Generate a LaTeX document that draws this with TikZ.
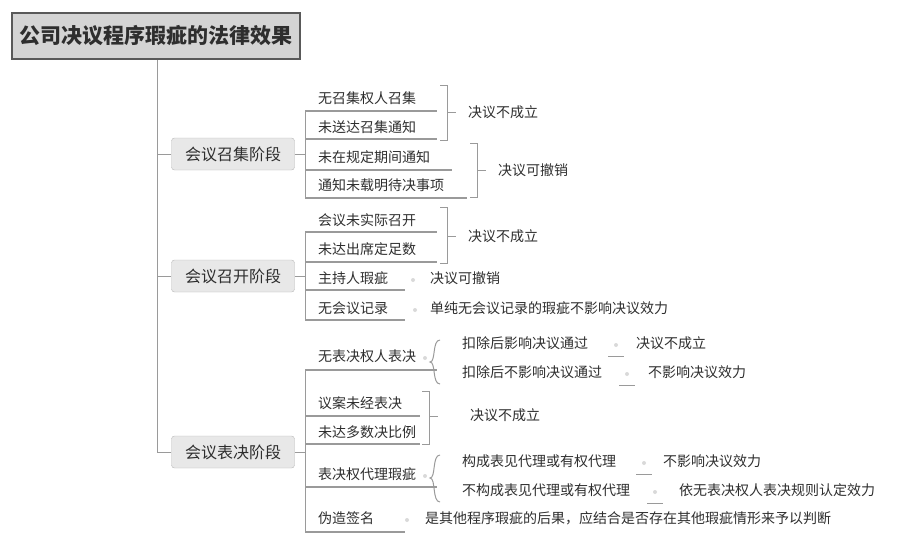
\documentclass[tikz,border=0pt]{standalone}
\usepackage{fontspec}
\setmainfont{Noto Sans CJK SC}
\usetikzlibrary{decorations.pathreplacing}
\definecolor{tx}{HTML}{2E2E2E}
\definecolor{ln}{HTML}{9A9A9A}
\begin{document}
\begin{tikzpicture}[x=1pt,y=-1pt,
  leaf/.style={anchor=west,inner sep=0pt,text=tx,font=\fontsize{14}{16}\selectfont},
  lab/.style={anchor=west,inner sep=0pt,text=tx,font=\fontsize{14}{16}\selectfont},
  stage/.style={draw=ln!70,fill=black!9,rounded corners=3pt,minimum width=123pt,minimum height=32pt,text=tx,font=\fontsize{16}{18}\selectfont},
  ul/.style={draw=ln,line width=1.3pt},
  br/.style={draw=ln,line width=1pt},
  dotc/.style={circle,fill=black!15,inner sep=0pt,minimum size=4pt}]
\useasboundingbox (0,0) rectangle (913,542);
\node[draw=black!65,line width=2.5pt,fill=black!17,minimum width=288pt,minimum height=46pt,text=tx,font=\fontsize{21}{24}\selectfont\bfseries] (root) at (156,36) {公司决议程序瑕疵的法律效果};
\coordinate (trunk) at (157,452);
\draw[br] (root.south -| 157,0) -- (trunk);
\node[stage] (s1) at (233,154) {会议召集阶段};
\node[stage] (s2) at (233,276) {会议召开阶段};
\node[stage] (s3) at (233,452) {会议表决阶段};
\foreach \s in {s1,s2,s3}{\draw[br] (\s.west) -- (\s.west -| 157,0);}
% stage 1
\node[leaf] (a1) at (318,98) {无召集权人召集};
\node[leaf] (a2) at (318,127) {未送达召集通知};
\node[leaf] (a3) at (318,157) {未在规定期间通知};
\node[leaf] (a4) at (318,185) {通知未载明待决事项};
\draw[ul] (305,111)--(437,111) (305,139)--(437,139) (305,170)--(452,170) (305,198)--(467,198);
\draw[br] (305,111)--(305,198) (s1.east)--(305,154);
\draw[br] (440,85)--(447,85)--(447,140)--(440,140) (447,112)--(456,112);
\node[lab] (r1) at (468,112) {决议不成立};
\draw[br] (470,143)--(477,143)--(477,197)--(470,197) (477,170)--(486,170);
\node[lab] (r2) at (498,170) {决议可撤销};
% stage 2
\node[leaf] (b1) at (318,220) {会议未实际召开};
\node[leaf] (b2) at (318,249) {未达出席定足数};
\node[leaf] (b3) at (318,278) {主持人瑕疵};
\node[leaf] (b4) at (318,308) {无会议记录};
\draw[ul] (305,232)--(437,232) (305,262)--(437,262) (305,290)--(405,290) (305,320)--(405,320);
\draw[br] (305,232)--(305,320) (s2.east)--(305,276);
\draw[br] (440,207)--(447,207)--(447,263)--(440,263) (447,236)--(456,236);
\node[lab] (r3) at (468,236) {决议不成立};
\node[dotc] at (413,280) {};
\node[lab] (r4) at (430,278) {决议可撤销};
\node[dotc] at (415,310) {};
\node[lab] (r5) at (430,308) {单纯无会议记录的瑕疵不影响决议效力};
% stage 3
\node[leaf] (c1) at (318,356) {无表决权人表决};
\node[leaf] (c2) at (318,403) {议案未经表决};
\node[leaf] (c3) at (318,432) {未达多数决比例};
\node[leaf] (c4) at (318,474) {表决权代理瑕疵};
\node[leaf] (c5) at (318,518) {伪造签名};
\draw[ul] (305,370)--(437,370) (305,416)--(420,416) (305,444)--(420,444) (305,487)--(437,487) (305,532)--(405,532);
\draw[br] (305,370)--(305,532) (s3.east)--(305,452);
\node[dotc] at (425,358) {};
\draw[br] (440,340) .. controls (432,340) and (436,362) .. (430,362) .. controls (436,362) and (432,384) .. (440,384);
\node[leaf] (d1) at (462,343) {扣除后影响决议通过};
\node[leaf] (d2) at (462,372) {扣除后不影响决议通过};
\node[dotc] at (616,345) {};
\draw[ul,line width=1pt] (608,356)--(624,356);
\node[lab] (r6) at (636,343) {决议不成立};
\node[dotc] at (627,374) {};
\draw[ul,line width=1pt] (619,385)--(635,385);
\node[lab] (r7) at (648,372) {不影响决议效力};
\draw[br] (422,391)--(429,391)--(429,444)--(422,444) (429,416)--(438,416);
\node[lab] (r8) at (470,415) {决议不成立};
\node[dotc] at (425,476) {};
\draw[br] (440,455) .. controls (432,455) and (436,478) .. (430,478) .. controls (436,478) and (432,502) .. (440,502);
\node[leaf] (e1) at (462,461) {构成表见代理或有权代理};
\node[leaf] (e2) at (462,490) {不构成表见代理或有权代理};
\node[dotc] at (644,463) {};
\draw[ul,line width=1pt] (636,474)--(652,474);
\node[lab] (r9) at (663,461) {不影响决议效力};
\node[dotc] at (655,492) {};
\draw[ul,line width=1pt] (647,503)--(663,503);
\node[lab] (r10) at (679,490) {依无表决权人表决规则认定效力};
\node[dotc] at (407,520) {};
\node[lab] (r11) at (425,518) {是其他程序瑕疵的后果，应结合是否存在其他瑕疵情形来予以判断};
\end{tikzpicture}
\end{document}
